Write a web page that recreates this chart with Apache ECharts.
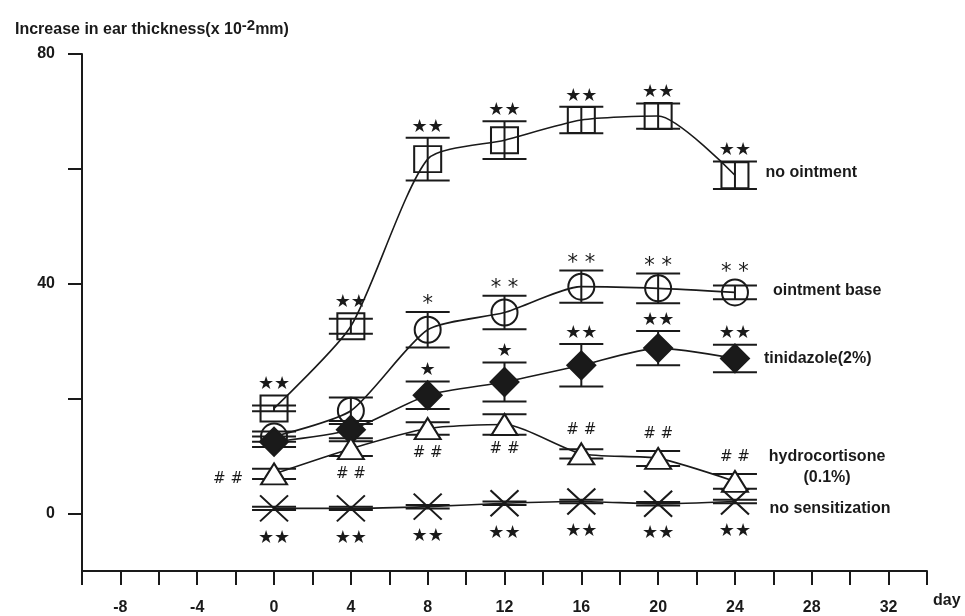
<!DOCTYPE html>
<html>
<head>
<meta charset="utf-8">
<title>ear thickness</title>
<script src="https://cdn.jsdelivr.net/npm/echarts@6/dist/echarts.min.js"></script>
<style>
html, body { margin: 0; background: #fff; }
#chart { width: 965px; height: 616px; }
</style>
</head>
<body>
<div id="chart"></div>
<script>
// days of measurement
var days = [0, 4, 8, 12, 16, 20, 24];

// no ointment
var noOint = [18.3, 32.6, 61.7, 65.0, 68.5, 69.2, 58.9];
var noOintErr = [0.5, 1.3, 3.7, 3.3, 2.3, 2.2, 2.4];
var noOintSig = ['★★', '★★', '★★', '★★', '★★', '★★', '★★'];
var noOintPos = ['t', 't', 't', 't', 't', 't', 't'];

// ointment base
var ointBase = [13.4, 17.9, 32.0, 35.0, 39.5, 39.2, 38.5];
var ointBaseErr = [0.9, 2.3, 3.1, 2.9, 2.8, 2.6, 1.2];
var ointBaseSig = ['', '', '*', '* *', '* *', '* *', '* *'];
var ointBasePos = ['t', 't', 't', 't', 't', 't', 't'];

// tinidazole (2%)
var tinid = [12.5, 14.6, 20.6, 22.9, 25.8, 28.8, 27.0];
var tinidErr = [0.9, 1.5, 2.4, 3.4, 3.7, 3.0, 2.4];
var tinidSig = ['', '', '★', '★', '★★', '★★', '★★'];
var tinidPos = ['t', 't', 't', 't', 't', 't', 't'];

// hydrocortisone (0.1%)
var hydro = [6.9, 11.3, 14.8, 15.5, 10.4, 9.6, 5.6];
var hydroErr = [0.9, 1.3, 1.1, 1.8, 0.8, 1.3, 1.3];
var hydroSig = ['# #', '# #', '# #', '# #', '# #', '# #', '# #'];
var hydroPos = ['l', 'b', 'b', 'b', 't', 't', 't'];

// no sensitization
var noSens = [0.9, 0.9, 1.2, 1.8, 2.1, 1.7, 2.1];
var noSensErr = [0.3, 0.3, 0.3, 0.3, 0.3, 0.3, 0.3];
var noSensSig = ['★★', '★★', '★★', '★★', '★★', '★★', '★★'];
var noSensPos = ['b', 'b', 'b', 'b', 'b', 'b', 'b'];

// axis ticks / labels
var xTicksLabels = [-8, -4, 0, 4, 8, 12, 16, 20, 24, 28, 32];
var yTicks = [0, 20, 40, 60, 80];
var yTickLabels = [0, 40, 80];

var ink = '#1a1a1a';
var txtFont = 'Liberation Sans, Arial, sans-serif';

function sigFont(s) {
    if (s.indexOf('★') >= 0) return '18px DejaVu Sans';
    if (s.indexOf('*') >= 0) return '21px DejaVu Sans';
    return '15px DejaVu Sans';
}

// error bars + significance marks, as a custom series
function errSeries(mean, err, sig, pos, half, below) {
    return {
        type: 'custom',
        z: 1,
        silent: true,
        data: days.map(function (d, i) { return [d, mean[i], err[i]]; }),
        renderItem: function (params, api) {
            var i = params.dataIndex;
            var p = api.coord([api.value(0), api.value(1)]);
            var hi = api.coord([api.value(0), api.value(1) + api.value(2)]);
            var lo = api.coord([api.value(0), api.value(1) - api.value(2)]);
            var ls = { stroke: ink, lineWidth: 2 };
            var kids = [
                { type: 'line', shape: { x1: p[0], y1: hi[1], x2: p[0], y2: lo[1] }, style: ls },
                { type: 'line', shape: { x1: p[0] - 22, y1: hi[1], x2: p[0] + 22, y2: hi[1] }, style: ls },
                { type: 'line', shape: { x1: p[0] - 22, y1: lo[1], x2: p[0] + 22, y2: lo[1] }, style: ls }
            ];
            var s = sig[i];
            if (s) {
                var tx = p[0], ty;
                if (pos[i] === 't') ty = Math.min(hi[1], p[1] - half) - 11;
                else if (pos[i] === 'b') ty = Math.max(lo[1], p[1] + half) + below;
                else { tx = p[0] - 46; ty = p[1] + 5; }
                if (s.indexOf('*') >= 0) ty += 4;
                kids.push({
                    type: 'text', x: tx, y: ty,
                    style: { text: s, align: 'center', verticalAlign: 'middle', font: sigFont(s), fill: ink }
                });
            }
            return { type: 'group', children: kids };
        }
    };
}

function lineSeries(name, mean, symbol, size, fill, lab) {
    return {
        name: name,
        type: 'line',
        z: 3,
        smooth: 0.22,
        symbol: symbol,
        symbolSize: size,
        showSymbol: true,
        lineStyle: { color: ink, width: 1.6 },
        itemStyle: { color: fill, borderColor: ink, borderWidth: 2 },
        data: days.map(function (d, i) {
            var item = { value: [d, mean[i]] };
            if (i === days.length - 1) {
                item.label = Object.assign({
                    show: true, position: 'right', color: ink,
                    fontFamily: txtFont, fontWeight: 'bold', fontSize: 16
                }, lab);
            }
            return item;
        })
    };
}

var chart = echarts.init(document.getElementById('chart'));

chart.setOption({
    backgroundColor: '#fff',
    animation: false,
    title: {
        text: '{a|Increase in ear thickness(x 10}{s|-2}{a|mm)}',
        left: 10,
        top: 13,
        textStyle: {
            rich: {
                a: { fontFamily: txtFont, fontWeight: 'bold', fontSize: 16, color: ink },
                s: { fontFamily: txtFont, fontWeight: 'bold', fontSize: 15, color: ink, padding: [0, 0, 9, 0] }
            }
        }
    },
    grid: { left: 82, right: 38, top: 54, bottom: 45 },
    xAxis: {
        type: 'value',
        min: -10,
        max: 34,
        interval: 2,
        name: 'day',
        nameLocation: 'end',
        nameGap: 6,
        nameTextStyle: {
            fontFamily: txtFont, fontWeight: 'bold', fontSize: 16, color: ink,
            verticalAlign: 'top', padding: [22, 0, 0, 0]
        },
        splitLine: { show: false },
        axisLine: { onZero: false, lineStyle: { color: ink, width: 2 } },
        axisTick: { inside: false, length: 14, lineStyle: { color: ink, width: 2 } },
        axisLabel: {
            customValues: xTicksLabels,
            margin: 29,
            fontFamily: txtFont, fontWeight: 'bold', fontSize: 16, color: ink
        }
    },
    yAxis: {
        type: 'value',
        min: -10,
        max: 80,
        splitLine: { show: false },
        axisLine: { show: true, onZero: false, lineStyle: { color: ink, width: 2 } },
        axisTick: { show: true, customValues: yTicks, length: 14, lineStyle: { color: ink, width: 2 } },
        axisLabel: {
            customValues: yTickLabels,
            margin: 27,
            fontFamily: txtFont, fontWeight: 'bold', fontSize: 16, color: ink
        }
    },
    series: [
        errSeries(noOint, noOintErr, noOintSig, noOintPos, 13, 17),
        errSeries(ointBase, ointBaseErr, ointBaseSig, ointBasePos, 13, 17),
        errSeries(tinid, tinidErr, tinidSig, tinidPos, 13, 17),
        errSeries(hydro, hydroErr, hydroSig, hydroPos, 13, 12),
        errSeries(noSens, noSensErr, noSensSig, noSensPos, 13, 17),
        lineSeries('no ointment', noOint, 'rect', [27, 26], 'rgba(0,0,0,0)',
            { distance: 16, offset: [0, -3], formatter: 'no ointment' }),
        lineSeries('ointment base', ointBase, 'circle', 26, 'rgba(0,0,0,0)',
            { distance: 24, offset: [0, -2], formatter: 'ointment base' }),
        lineSeries('tinidazole(2%)', tinid, 'diamond', [28, 28], ink,
            { distance: 14, offset: [0, 0], formatter: 'tinidazole(2%)' }),
        lineSeries('hydrocortisone(0.1%)', hydro, 'triangle', [26, 21], '#fff',
            { distance: 14, offset: [0, -14], formatter: 'hydrocortisone\n(0.1%)', align: 'center',
              position: 'right', lineHeight: 21, padding: [0, 0, 0, 128] }),
        lineSeries('no sensitization', noSens, 'path://M0,0L20,20M20,0L0,20', [28, 26], 'none',
            { distance: 18, offset: [0, 7], formatter: 'no sensitization' })
    ]
});
</script>
</body>
</html>
